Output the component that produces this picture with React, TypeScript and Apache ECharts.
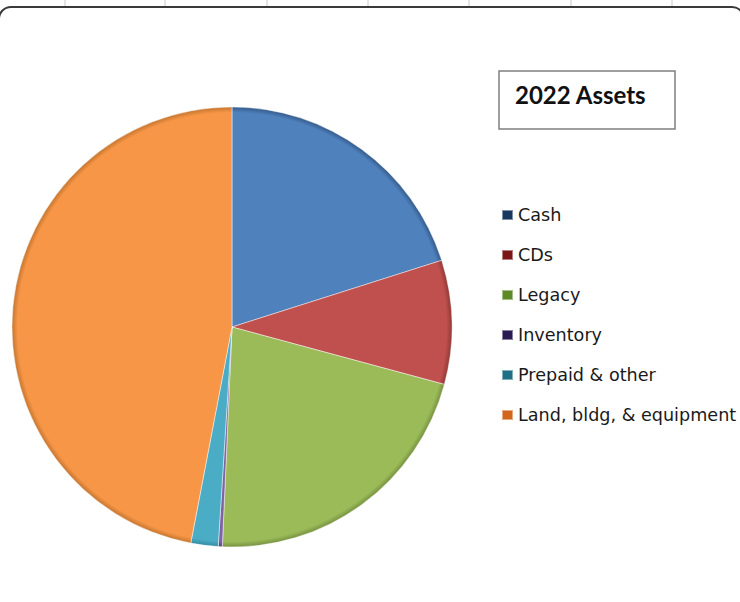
import React, { useEffect, useRef } from "react";
import * as echarts from "echarts";

const categories = ["Cash", "CDs", "Legacy", "Inventory", "Prepaid & other", "Land, bldg, & equipment"];
const values = [20.1, 9.1, 21.5, 0.3, 2.0, 47.0];
const sliceColors = ["#4f81bd", "#c0504d", "#9bbb59", "#8064a2", "#4bacc6", "#f79646"];
const edgeColors = ["#345a8a", "#8f3a38", "#76913f", "#5a4578", "#338ba3", "#c47530"];
const legendColors = ["#17375e", "#7a1616", "#5e8a26", "#2a1a52", "#1f6f86", "#d2661c"];
const titleText = "2022 Assets";
const gridTicks = [65, 165, 267, 368, 469, 571, 672];

export default function App() {
  const ref = useRef<HTMLDivElement>(null);
  useEffect(() => {
    if (!ref.current) return;
    const chart = echarts.init(ref.current, undefined, { renderer: "svg" });
    const cx = 232, cy = 327, r = 220;
    chart.setOption({
      animation: false,
      backgroundColor: "#ffffff",
      title: {
        text: titleText,
        left: 499,
        top: 71,
        borderColor: "#7f7f7f",
        borderWidth: 1.5,
        padding: [11, 29, 23, 16],
        textStyle: {
          fontFamily: "Lato",
          fontWeight: "bold",
          fontSize: 24,
          lineHeight: 24,
          color: "#111111",
          width: 130,
        },
      },
      legend: {
        orient: "vertical",
        left: 496,
        top: 200,
        itemWidth: 11,
        itemHeight: 10,
        itemGap: 20,
        icon: "rect",
        selectedMode: false,
        textStyle: {
          fontFamily: "DejaVu Sans",
          fontSize: 17.6,
          lineHeight: 20,
          color: "#1a1a1a",
          padding: [0, 0, 0, 0],
        },
        data: categories.map((c, i) => ({ name: c, itemStyle: { color: legendColors[i] } })),
      },
      graphic: [
        ...gridTicks.map((x) => ({
          type: "line",
          shape: { x1: x, y1: 0, x2: x, y2: 7 },
          style: { stroke: "#c8c8c8", lineWidth: 1 },
          silent: true,
        })),
        {
          type: "rect",
          shape: { x: -1, y: 7, width: 745, height: 640, r: 12 },
          style: { fill: "none", stroke: "#3a3a3a", lineWidth: 2 },
          silent: true,
        },
      ],
      series: [
        {
          type: "pie",
          center: [cx, cy],
          radius: r,
          startAngle: 90,
          clockwise: true,
          label: { show: false },
          labelLine: { show: false },
          emphasis: { disabled: true },
          silent: true,
          itemStyle: {
            borderColor: "rgba(255,255,255,0.45)",
            borderWidth: 1,
          },
          data: categories.map((c, i) => ({
            name: c,
            value: values[i],
            itemStyle: {
              color: new echarts.graphic.RadialGradient(
                cx,
                cy,
                r,
                [
                  { offset: 0, color: sliceColors[i] },
                  { offset: 0.975, color: sliceColors[i] },
                  { offset: 1, color: edgeColors[i] },
                ],
                true
              ),
            },
          })),
        },
      ],
    });
    return () => chart.dispose();
  }, []);
  return (
    <div
      ref={ref}
      style={{ position: "absolute", left: 0, top: 0, width: 740, height: 602 }}
    />
  );
}
